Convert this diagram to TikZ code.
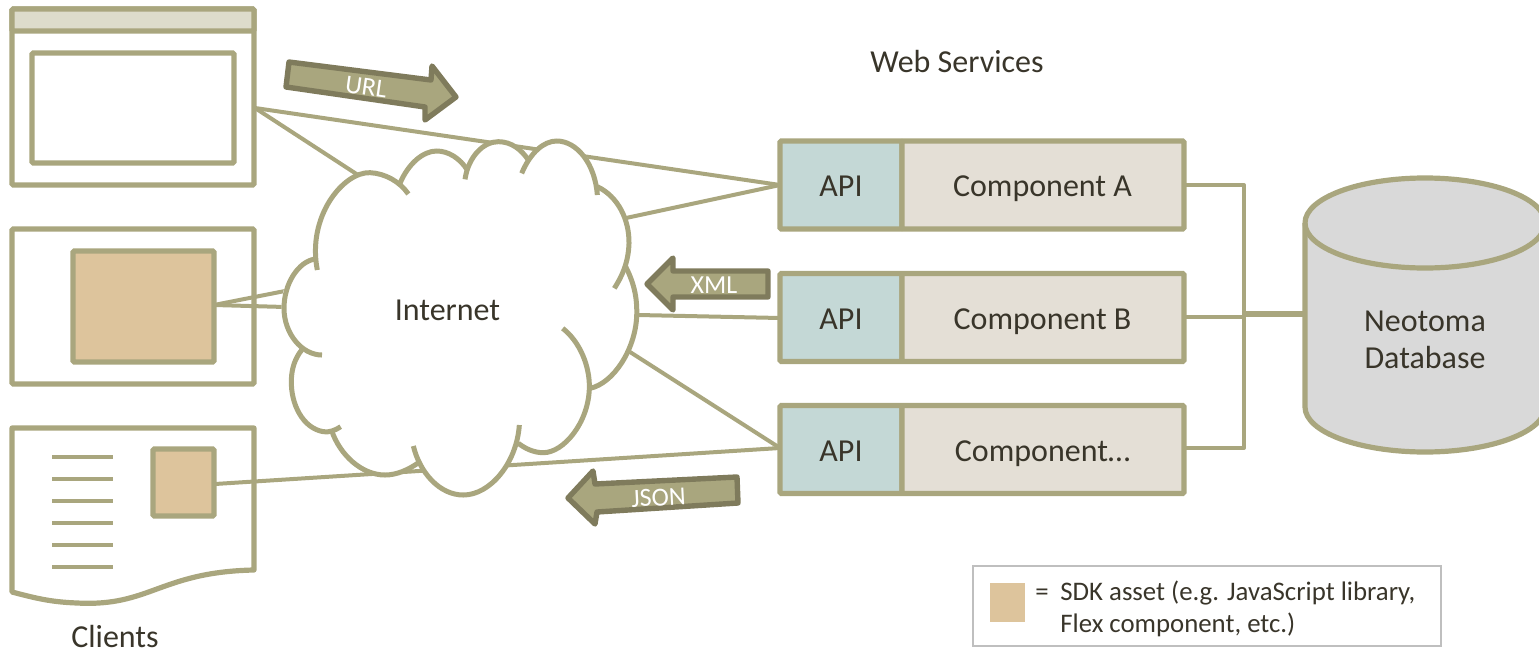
\documentclass[tikz,border=0pt]{standalone}
\usepackage{fontspec}
\setmainfont{Carlito}
\definecolor{olive}{HTML}{A9A67E}
\definecolor{darkolive}{HTML}{7F7B5C}
\definecolor{tan}{HTML}{DDC49C}
\definecolor{bar}{HTML}{DDDCCB}
\definecolor{apifill}{HTML}{C4D8D6}
\definecolor{compfill}{HTML}{E4DFD6}
\definecolor{dbfill}{HTML}{D9D9D9}
\definecolor{ink}{HTML}{39352A}
\definecolor{legendline}{HTML}{BFBFBF}
\tikzset{
  box/.style={draw=olive,line width=2.6pt,rounded corners=0.6pt,inner sep=0pt,outer sep=0pt,anchor=north west},
  link/.style={draw=olive,line width=2pt},
  stroke/.style={draw=olive,line width=2.6pt},
  flow/.style={draw=darkolive,fill=olive,line width=2.7pt,line join=round},
  flowtext/.style={text=white,font=\fontsize{13}{15}\selectfont,inner sep=0pt,anchor=base},
  label/.style={text=ink,font=\fontsize{16}{18.5}\selectfont,inner sep=0pt,anchor=base},
  cloudarc/.style={draw=olive,line width=2.5pt},
  textline/.style={draw=olive,line width=2pt},
  legendtext/.style={text=ink,font=\fontsize{13.4}{16}\selectfont,inner sep=0pt,anchor=base west},
}
\begin{document}
\begin{tikzpicture}[x=0.5pt,y=-0.5pt]
\useasboundingbox (0,0) rectangle (1539,653);
% anchor coordinates
\coordinate (bp) at (255,108);
\coordinate (cloudA) at (358,175);
\coordinate (cloudAout) at (626,218);
\coordinate (apiAin) at (780,185);
\coordinate (tanOut) at (214,305);
\coordinate (cloudB1) at (285,291);
\coordinate (cloudB2) at (285,307);
\coordinate (cloudBout) at (638,315);
\coordinate (apiBin) at (780,318);
\coordinate (cloudC) at (630,352);
\coordinate (apiCin) at (780,448);
\coordinate (docOut) at (215,484);
% connectors
\draw[link] (bp) -- (apiAin);
\draw[link] (bp) -- (cloudA);
\draw[link] (cloudAout) -- (apiAin);
\draw[link] (tanOut) -- (cloudB1);
\draw[link] (tanOut) -- (cloudB2);
\draw[link] (cloudBout) -- (apiBin);
\draw[link] (cloudC) -- (apiCin);
\draw[link] (docOut) -- (apiCin);
% cloud
\begin{scope}[xshift=130pt,yshift=-20pt,x=0.16667pt,y=-0.16667pt]
\fill[white] plot[smooth cycle,tension=0.5] coordinates {(165,610) (200,470) (330,398) (420,430) (470,345) (530,333) (620,380) (715,305) (800,345) (890,303) (980,350) (1012,440) (1105,560) (1100,680) (1130,820) (1090,970) (990,1045) (975,1130) (850,1238) (770,1210) (700,1340) (610,1365) (520,1340) (475,1280) (380,1305) (280,1270) (215,1172) (120,1130) (90,1030) (125,930) (70,850) (75,740) (165,655)};
\draw[cloudarc] (172,690) .. controls (140,530) and (250,395) .. (330,398) .. controls (375,400) and (420,425) .. (445,462);
\draw[cloudarc] (420,430) .. controls (445,370) and (490,333) .. (530,333) .. controls (565,333) and (600,355) .. (622,390);
\draw[cloudarc] (615,418) .. controls (625,350) and (670,305) .. (715,305) .. controls (755,305) and (785,330) .. (805,360);
\draw[cloudarc] (785,400) .. controls (810,340) and (850,303) .. (890,303) .. controls (950,303) and (1005,370) .. (1012,465);
\draw[cloudarc] (1012,440) .. controls (1075,470) and (1108,540) .. (1107,610) .. controls (1105,670) and (1085,710) .. (1063,745);
\draw[cloudarc] (1097,680) .. controls (1125,735) and (1132,780) .. (1130,830) .. controls (1125,930) and (1060,1030) .. (990,1045);
\draw[cloudarc] (908,865) .. controls (960,905) and (990,980) .. (988,1045) .. controls (985,1150) and (910,1238) .. (850,1238) .. controls (820,1238) and (795,1225) .. (775,1210);
\draw[cloudarc] (778,1155) .. controls (770,1270) and (690,1365) .. (610,1365) .. controls (540,1365) and (480,1300) .. (460,1218);
\draw[cloudarc] (480,1265) .. controls (445,1290) and (410,1305) .. (375,1305) .. controls (305,1305) and (240,1245) .. (215,1172);
\draw[cloudarc] (242,1160) .. controls (225,1172) and (205,1178) .. (190,1175) .. controls (130,1165) and (92,1095) .. (94,1020) .. controls (95,985) and (105,955) .. (125,930);
\draw[cloudarc] (186,945) .. controls (125,945) and (72,880) .. (72,805) .. controls (72,730) and (115,665) .. (165,657);
\end{scope}
\node[label] (internet) at (447.5,320) {Internet};
% browser client
\node[box,minimum width=121pt,minimum height=88pt] (browser) at (12,9) {};
\node[box,fill=bar,minimum width=121pt,minimum height=11pt] (titlebar) at (12,9) {};
\node[box,minimum width=101pt,minimum height=55pt] (pane) at (32,53) {};
% app client
\node[box,minimum width=121pt,minimum height=77.5pt] (appclient) at (12,229) {};
\node[box,fill=tan,minimum width=70.5pt,minimum height=55.5pt] (apptan) at (73,251) {};
% document client
\draw[stroke,line join=round] (12,428) -- (254,428) -- (254,570) .. controls (160,572) and (150,607) .. (77,603) .. controls (50,602) and (35,598) .. (12,592) -- cycle;
\foreach \yy in {457,479,501,523,545,567} \draw[textline] (52,\yy) -- (113,\yy);
\node[box,fill=tan,minimum width=30.5pt,minimum height=33.5pt] (doctan) at (153,449) {};
\node[label] (clients) at (115,647) {Clients};
% url arrow
\draw[flow] (289,62) -- (431,80) -- (432,66) -- (456,97) -- (425,120) -- (425,107) -- (286,87) -- cycle;
\node[flowtext,rotate=-8] (url) at (365,95) {URL};
% xml arrow
\draw[flow] (647,284) -- (673,258) -- (673,271) -- (768,271) -- (768,297) -- (673,297) -- (673,310) -- cycle;
\node[flowtext] (xml) at (714,293) {XML};
% json arrow
\draw[flow] (568,498) -- (593,471) -- (595,484) -- (737,477) -- (738,503) -- (597,512) -- (595,524) -- cycle;
\node[flowtext,rotate=3] (json) at (659,506) {JSON};
% components
\node[box,fill=apifill,minimum width=61pt,minimum height=44pt] (apiA) at (780,141) {};
\node[box,fill=compfill,minimum width=141pt,minimum height=44pt] (compA) at (902,141) {};
\node[box,fill=apifill,minimum width=61pt,minimum height=44pt] (apiB) at (780,273.5) {};
\node[box,fill=compfill,minimum width=141pt,minimum height=44pt] (compB) at (902,273.5) {};
\node[box,fill=apifill,minimum width=61pt,minimum height=44pt] (apiC) at (780,405.5) {};
\node[box,fill=compfill,minimum width=141pt,minimum height=44pt] (compC) at (902,405.5) {};
\node[label] (apiAt) at (841,196) {API};
\node[label] (apiBt) at (841,329.5) {API};
\node[label] (apiCt) at (841,461.5) {API};
\node[label] (compAt) at (1042.5,196) {Component A};
\node[label] (compBt) at (1042.5,329.5) {Component B};
\node[label] (compCt) at (1042.5,461.5) {Component…};
\node[label] (ws) at (957,72) {Web Services};
% bus
\coordinate (busTop) at (1244,185);
\coordinate (busMid) at (1244,317);
\coordinate (busBot) at (1244,448);
\coordinate (dbIn) at (1305,314);
\coordinate (busJoin) at (1244,314);
\draw[link,line join=round] (compA.east |- busTop) -- (busTop) -- (busBot) -- (compC.east |- busBot);
\draw[link] (compB.east |- busMid) -- (busMid);
\draw[stroke] (busJoin) -- (dbIn);
% database
\begin{scope}
\clip (0,0) rectangle (1539,653);
\draw[stroke,fill=dbfill] (1305,223) -- (1305,407) arc[start angle=180,end angle=360,x radius=120,y radius=-45] -- (1545,223) arc[start angle=0,end angle=180,x radius=120,y radius=-45];
\draw[stroke] (1305,223) arc[start angle=180,end angle=360,x radius=120,y radius=-45];
\end{scope}
\node[label] (neo) at (1425,331) {Neotoma};
\node[label] (db) at (1425,368) {Database};
% legend
\node[draw=legendline,line width=0.75pt,inner sep=0pt,outer sep=0pt,anchor=north west,minimum width=234pt,minimum height=40pt] (legend) at (973,566) {};
\node[fill=tan,inner sep=0pt,outer sep=0pt,anchor=north west,minimum width=17.5pt,minimum height=19.5pt] (swatch) at (990,583) {};
\node[legendtext] (eq) at (1035,600) {=};
\node[legendtext] (l1) at (1060,600) {SDK asset (e.g. JavaScript library,};
\node[legendtext] (l2) at (1060,632) {Flex component, etc.)};
\end{tikzpicture}
\end{document}
